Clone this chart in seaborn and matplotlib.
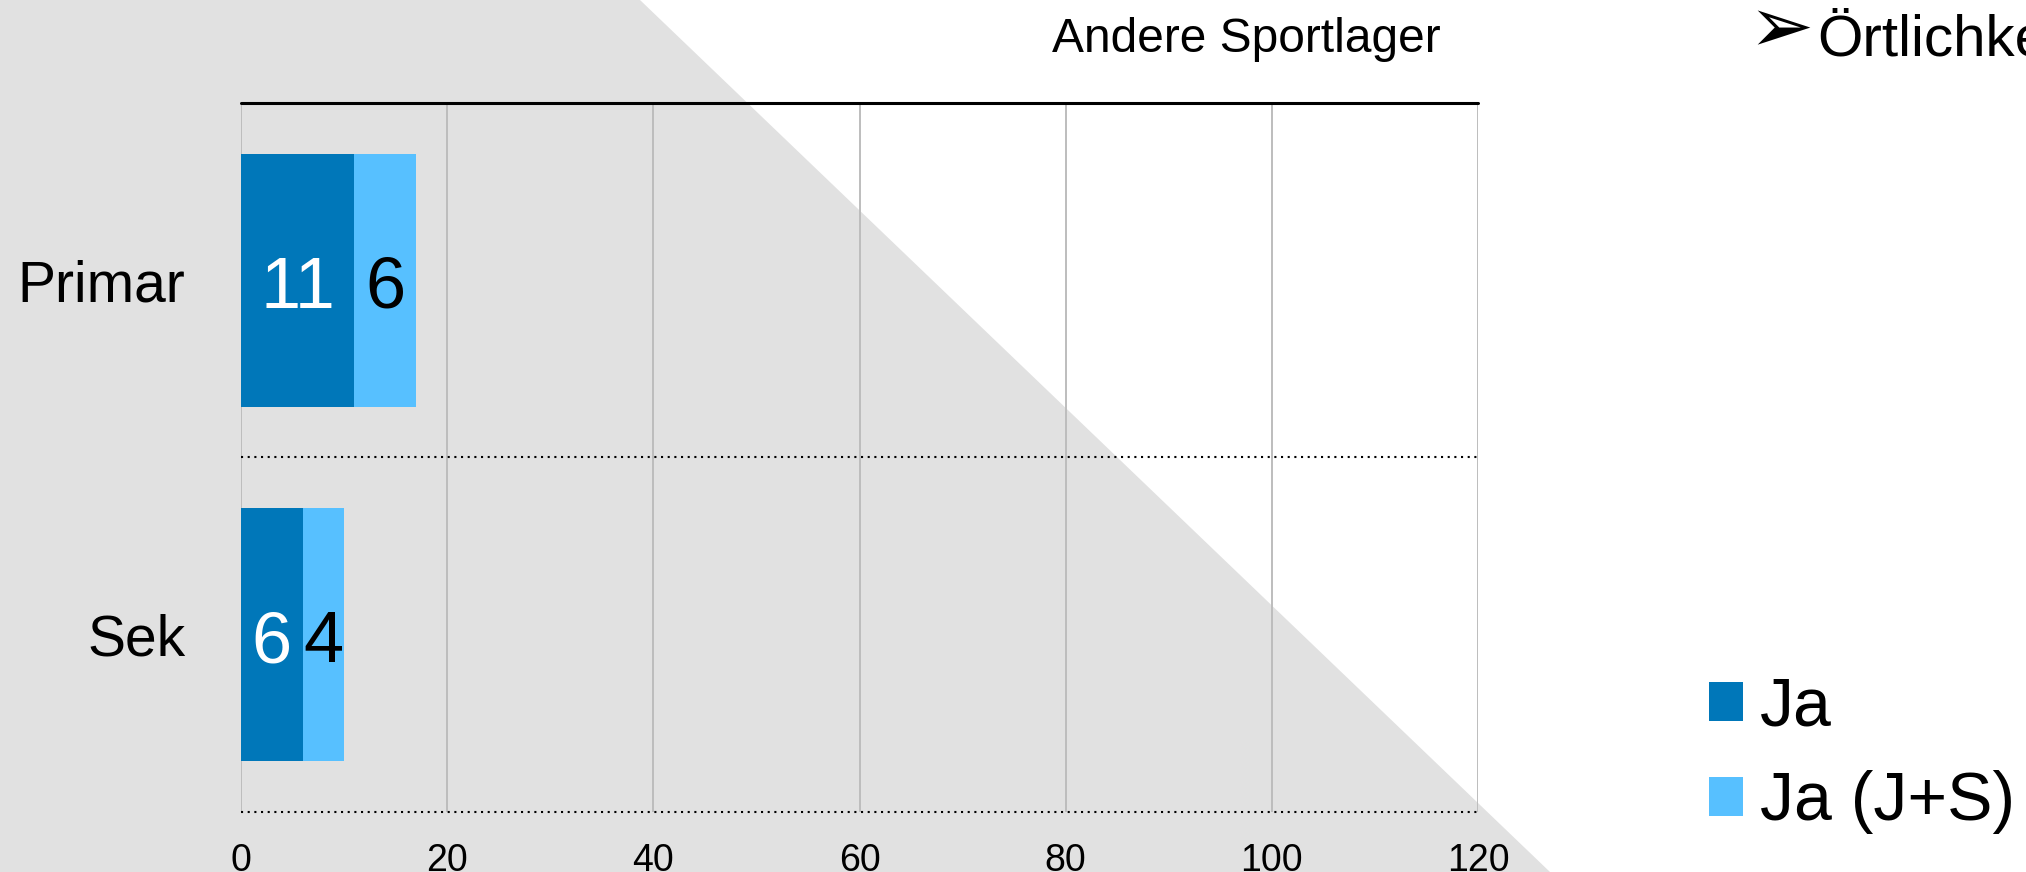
import pandas as pd
import numpy as np
import seaborn as sb
import matplotlib.pyplot as plt

categories = ['Primar', 'Sek']
ja = [11, 6]
ja_js = [6, 4]
x_ticks = [0, 20, 40, 60, 80, 100, 120]
legend_labels = ['Ja', 'Ja (J+S)']
title = 'Andere Sportlager'
side_note = 'Örtlichkeiten'

dark = '#0077B9'
light = '#57C0FF'

sb.set_theme(style='white')
plt.rcParams['font.family'] = ['Liberation Sans', 'DejaVu Sans']
plt.rcParams['text.color'] = 'black'

data = pd.DataFrame({'Stufe': categories, 'Ja': ja, 'JS': ja_js})
data['Total'] = data['Ja'] + data['JS']

fig = plt.figure(figsize=(20.26, 8.72), dpi=100)

# grauer Hintergrund (Dreieck)
bg = fig.add_axes([0, 0, 1, 1], zorder=-1)
bg.fill([0, 0, 640 / 2026, 1550 / 2026], [0, 1, 1, 0], color='#e1e1e1', lw=0)
bg.set_xlim(0, 1)
bg.set_ylim(0, 1)
bg.axis('off')

ax = fig.add_axes([241 / 2026, 60 / 872, 1237 / 2026, 709 / 872])
ax.patch.set_alpha(0)

sb.barplot(data=data, x='Total', y='Stufe', color=light, saturation=1,
           width=0.715, orient='h', label=legend_labels[1], ax=ax,
           edgecolor='none', linewidth=0)
sb.barplot(data=data, x='Ja', y='Stufe', color=dark, saturation=1,
           width=0.715, orient='h', label=legend_labels[0], ax=ax,
           edgecolor='none', linewidth=0)
if ax.get_legend() is not None:
    ax.get_legend().remove()

# Werte in den Balken (Grundlinie etwas unter Balkenmitte)
for i, row in data.iterrows():
    ax.text(row['Ja'] / 2, i + 0.078, str(row['Ja']), ha='center', va='baseline',
            color='white', fontsize=52)
    ax.text(row['Ja'] + row['JS'] / 2, i + 0.078, str(row['JS']), ha='center',
            va='baseline', color='black', fontsize=52)

ax.set_xlim(0, 120)
ax.set_ylim(1.5, -0.5)
ax.set_xticks(x_ticks)
ax.set_xticklabels([str(t) for t in x_ticks])
ax.tick_params(axis='x', length=0, pad=22, labelsize=27, colors='black')
ax.tick_params(axis='y', length=0, pad=40, labelsize=41, colors='black')
ax.set_xlabel('')
ax.set_ylabel('')
for s in ax.spines.values():
    s.set_visible(False)

ax.grid(axis='x', color='#bdbdbd', lw=1.4)
ax.set_axisbelow(True)
ax.axhline(-0.5, color='black', lw=2.2, clip_on=False, zorder=5)
for yv in [0.5, 1.5]:
    ax.axhline(yv, color='black', lw=1.5, ls=(0, (1, 2.2)), clip_on=False, zorder=5)

h, l = ax.get_legend_handles_labels()
order = [l.index(legend_labels[0]), l.index(legend_labels[1])]
fig.legend([h[i] for i in order], [l[i] for i in order], loc='center left',
           bbox_to_anchor=(1709 / 2026, 117 / 872), frameon=False, fontsize=49,
           handlelength=0.5, handleheight=0.5, handletextpad=0.25,
           labelspacing=0.45, borderpad=0, borderaxespad=0)

fig.text(1246 / 2026, 1 - 52 / 872, title, ha='center', va='baseline', fontsize=34.5)
fig.text(1748 / 2026, 1 - 52 / 872, '➢', ha='left', va='baseline', fontsize=56,
         family=['DejaVu Sans'])
fig.text(1817 / 2026, 1 - 55 / 872, side_note, ha='left', va='baseline', fontsize=42)

fig.savefig('out.png', dpi=100)
